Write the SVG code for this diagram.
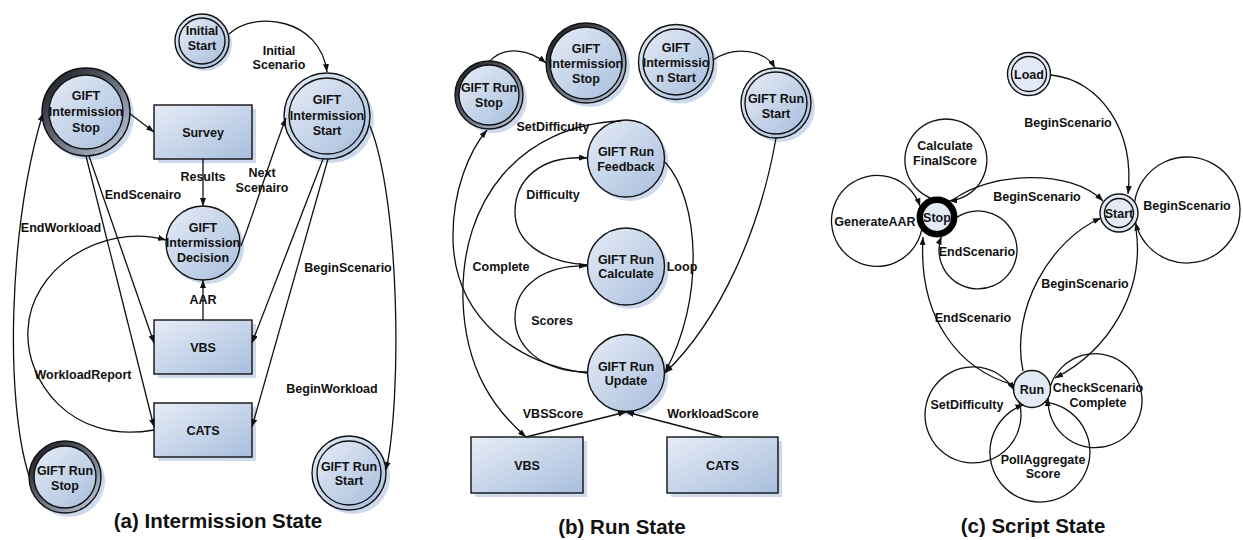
<svg xmlns="http://www.w3.org/2000/svg" width="1243" height="540" viewBox="0 0 1243 540">
<style>
.t{font-family:"Liberation Sans",Arial,sans-serif;font-weight:bold;font-size:12.5px;text-anchor:middle;fill:#111}
.title{font-family:"Liberation Sans",Arial,sans-serif;font-weight:bold;font-size:20.5px;text-anchor:middle;fill:#111}
.n{fill:url(#gNode);stroke:#111;stroke-width:1.4}
.ring{fill:url(#gRing);stroke:#111;stroke-width:1.4}
.sh{fill:#cdd9ec}
.c{fill:#e3eaf5;stroke:#111;stroke-width:1.4}
.e{fill:none;stroke:#111;stroke-width:1.3;marker-end:url(#arr)}
.l{fill:none;stroke:#111;stroke-width:1.3}
</style>
<defs>
<linearGradient id="gNode" x1="0" y1="0" x2="1" y2="1">
<stop offset="0" stop-color="#e6ecf6"/>
<stop offset="1" stop-color="#a8bedd"/>
</linearGradient>
<linearGradient id="gRing" x1="0" y1="0" x2="1" y2="1">
<stop offset="0" stop-color="#0d0d0d"/>
<stop offset="0.45" stop-color="#5d6472"/>
<stop offset="1" stop-color="#cdd8ea"/>
</linearGradient>
<marker id="arr" markerUnits="userSpaceOnUse" markerWidth="8" markerHeight="6" viewBox="0 0 8 6" refX="8" refY="3" orient="auto">
<path d="M0,0 L8,3 L0,6 z" fill="#111"/>
</marker>
</defs>
<rect width="1243" height="540" fill="#fff"/>

<!-- Panel (a) nodes -->
<g id="a-initial-start">
<circle class="sh" cx="205" cy="44" r="27"/>
<circle class="n" cx="202" cy="41" r="27"/>
<circle class="n" cx="202" cy="41" r="23"/>
<text class="t" x="202" y="35">Initial</text>
<text class="t" x="202" y="50">Start</text>
</g>
<g id="a-intermission-stop">
<circle class="sh" cx="90" cy="116" r="44"/>
<circle class="ring" cx="86" cy="112" r="44"/>
<circle class="n" cx="86" cy="112" r="37"/>
<text class="t" x="86" y="100">GIFT</text>
<text class="t" x="86" y="116">Intermission</text>
<text class="t" x="86" y="132">Stop</text>
</g>
<g id="a-survey">
<rect class="sh" x="158" y="109" width="98" height="54"/>
<rect class="n" x="154" y="105" width="98" height="54"/>
<text class="t" x="203" y="136.5">Survey</text>
</g>
<g id="a-intermission-start">
<circle class="sh" cx="331" cy="120" r="43"/>
<circle class="n" cx="327" cy="116" r="43"/>
<circle class="n" cx="327" cy="116" r="38"/>
<text class="t" x="327" y="104">GIFT</text>
<text class="t" x="327" y="120">Intermission</text>
<text class="t" x="327" y="135">Start</text>
</g>
<g id="a-decision">
<circle class="sh" cx="207" cy="247" r="37"/>
<circle class="n" cx="203" cy="243" r="37"/>
<text class="t" x="203" y="231.5">GIFT</text>
<text class="t" x="203" y="246.5">Intermission</text>
<text class="t" x="203" y="261.5">Decision</text>
</g>
<g id="a-vbs">
<rect class="sh" x="158" y="324" width="98" height="54"/>
<rect class="n" x="154" y="320" width="98" height="54"/>
<text class="t" x="203" y="351.5">VBS</text>
</g>
<g id="a-cats">
<rect class="sh" x="158" y="407" width="98" height="54"/>
<rect class="n" x="154" y="403" width="98" height="54"/>
<text class="t" x="203" y="434.5">CATS</text>
</g>
<g id="a-run-stop">
<circle class="sh" cx="69" cy="481" r="36"/>
<circle class="ring" cx="65" cy="477" r="36"/>
<circle class="n" cx="65" cy="477" r="31"/>
<text class="t" x="65" y="474.5">GIFT Run</text>
<text class="t" x="65" y="489.5">Stop</text>
</g>
<g id="a-run-start">
<circle class="sh" cx="353" cy="477" r="37"/>
<circle class="n" cx="349" cy="473" r="37"/>
<circle class="n" cx="349" cy="473" r="32"/>
<text class="t" x="349" y="470.5">GIFT Run</text>
<text class="t" x="349" y="484.5">Start</text>
</g>

<!-- Panel (b) nodes -->
<g id="b-run-stop">
<circle class="sh" cx="493" cy="99" r="34"/>
<circle class="ring" cx="489" cy="95" r="34"/>
<circle class="n" cx="489" cy="95" r="30"/>
<text class="t" x="489" y="91.5">GIFT Run</text>
<text class="t" x="489" y="106.5">Stop</text>
</g>
<g id="b-intermission-stop">
<circle class="sh" cx="590" cy="67" r="40"/>
<circle class="ring" cx="586" cy="63" r="40"/>
<circle class="n" cx="586" cy="63" r="36"/>
<text class="t" x="586" y="52.5">GIFT</text>
<text class="t" x="586" y="67.5">Intermission</text>
<text class="t" x="586" y="82.5">Stop</text>
</g>
<g id="b-intermission-start">
<circle class="sh" cx="680" cy="66" r="37.5"/>
<circle class="n" cx="676" cy="62" r="37.5"/>
<circle class="n" cx="676" cy="62" r="33"/>
<text class="t" x="676" y="51.5">GIFT</text>
<text class="t" x="676" y="66.5">Intermissio</text>
<text class="t" x="676" y="81.5">n Start</text>
</g>
<g id="b-run-start">
<circle class="sh" cx="780" cy="107" r="35"/>
<circle class="n" cx="776" cy="103" r="35"/>
<circle class="n" cx="776" cy="103" r="31"/>
<text class="t" x="776" y="102.5">GIFT Run</text>
<text class="t" x="776" y="117.5">Start</text>
</g>
<g id="b-feedback">
<circle class="sh" cx="630" cy="162.5" r="38.5"/>
<circle class="n" cx="626" cy="158.5" r="38.5"/>
<text class="t" x="626" y="155.5">GIFT Run</text>
<text class="t" x="626" y="170.5">Feedback</text>
</g>
<g id="b-calculate">
<circle class="sh" cx="630" cy="270.5" r="38.5"/>
<circle class="n" cx="626" cy="266.5" r="38.5"/>
<text class="t" x="626" y="263.5">GIFT Run</text>
<text class="t" x="626" y="277.5">Calculate</text>
</g>
<g id="b-update">
<circle class="sh" cx="630" cy="377" r="38.5"/>
<circle class="n" cx="626" cy="373" r="38.5"/>
<text class="t" x="626" y="370.5">GIFT Run</text>
<text class="t" x="626" y="384.5">Update</text>
</g>
<g id="b-vbs">
<rect class="sh" x="475" y="441" width="112" height="56"/>
<rect class="n" x="471" y="437" width="112" height="56"/>
<text class="t" x="527" y="469.5">VBS</text>
</g>
<g id="b-cats">
<rect class="sh" x="671" y="441" width="111" height="56"/>
<rect class="n" x="667" y="437" width="111" height="56"/>
<text class="t" x="722.5" y="469.5">CATS</text>
</g>

<!-- Panel (c) nodes -->
<g id="c-load">
<circle class="c" cx="1029" cy="74" r="21.5"/>
<circle class="c" cx="1029" cy="74" r="17.5"/>
<text class="t" x="1029" y="78.5">Load</text>
</g>
<g id="c-stop">
<circle cx="937" cy="217" r="17.2" fill="#e3eaf5" stroke="#000" stroke-width="6.5"/>
<text class="t" x="937" y="221.5">Stop</text>
</g>
<g id="c-start">
<circle class="c" cx="1119" cy="213" r="19"/>
<circle class="c" cx="1119" cy="213" r="14.5"/>
<text class="t" x="1119" y="217.5">Start</text>
</g>
<g id="c-run">
<circle class="c" cx="1032" cy="389" r="18.5"/>
<text class="t" x="1032" y="393.5">Run</text>
</g>

<!-- Connectors -->
<g id="connectors">
<!-- (a) -->
<path class="e" d="M229 34 C255 10 320 18 327 72"/>
<path class="e" d="M129 113 L154 132"/>
<path class="e" d="M203 159 L203 206"/>
<path class="e" d="M241 246 C255 210 268 165 286 118"/>
<path class="e" d="M89 156 L154 343"/>
<path class="e" d="M86 156 L154 427"/>
<path class="e" d="M323 159 L252 343"/>
<path class="e" d="M328 159 L252 427"/>
<path class="e" d="M370 126 C400 200 402 400 386 470"/>
<path class="e" d="M29 476 C5 400 8 230 43 113"/>
<path class="e" d="M154 430 C70 445 25 380 28 330 C30 270 100 222 166 240"/>
<path class="e" d="M203 320 L203 280"/>
<text class="t" x="279" y="54.5">Initial</text>
<text class="t" x="279" y="68.5">Scenario</text>
<text class="t" x="203" y="180.5">Results</text>
<text class="t" x="262" y="176.5">Next</text>
<text class="t" x="262" y="191.5">Scenairo</text>
<text class="t" x="143" y="198.5">EndScenairo</text>
<text class="t" x="61" y="231.5">EndWorkload</text>
<text class="t" x="348" y="271.5">BeginScenario</text>
<text class="t" x="203" y="303.5">AAR</text>
<text class="t" x="83" y="378.5">WorkloadReport</text>
<text class="t" x="332" y="392.5">BeginWorkload</text>
<!-- (b) -->
<path class="e" d="M490 61 C505 45 530 50 546 63"/>
<path class="e" d="M713 60 C735 45 765 50 775 68"/>
<path class="e" d="M621 121 C520 125 460 200 463 300 C465 370 495 410 526 437"/>
<path class="e" d="M587 373 C520 365 455 320 453 240 C452 190 470 150 487 130"/>
<path class="e" d="M588 265 C540 262 515 240 515 212 C515 180 540 155 587 158"/>
<path class="e" d="M587 372 C540 372 515 345 515 318 C515 285 545 265 587 266"/>
<path class="e" d="M665 162 C700 200 705 300 665 372"/>
<path class="e" d="M776 138 C760 230 720 320 665 373"/>
<path class="e" d="M526 437 L626 412"/>
<path class="e" d="M722 437 L626 412"/>
<text class="t" x="553" y="130.5">SetDifficulty</text>
<text class="t" x="553" y="198.5">Difficulty</text>
<text class="t" x="501" y="270.5">Complete</text>
<text class="t" x="682" y="270.5">Loop</text>
<text class="t" x="552" y="324.5">Scores</text>
<text class="t" x="553" y="417.5">VBSScore</text>
<text class="t" x="713" y="417.5">WorkloadScore</text>
<!-- (c) -->
<path class="e" d="M1051 75 C1100 80 1135 130 1128 194"/>
<path class="e" d="M953 200 C990 172 1070 168 1103 201"/>
<path class="e" d="M1023 371 C1010 310 1050 240 1101 218"/>
<path class="e" d="M1136 229 C1145 290 1110 350 1055 378"/>
<path class="e" d="M1014 385 C960 370 918 320 923 237"/>
<path class="e" d="M930.7 198.1 A41 41 0 1 1 948.9 200.9"/>
<path class="e" d="M921.6 229.9 A45.5 45.5 0 1 1 920.1 206.3"/>
<path class="e" d="M957 217.1 A39 39 0 1 1 941.4 236.5"/>
<path class="e" d="M1134.6 202.1 A53 53 0 1 1 1135.5 222.5"/>
<path class="e" d="M1019.1 401.5 A48 48 0 1 1 1014.1 390.1"/>
<path class="e" d="M1044.1 402.2 A50 50 0 1 1 1023.5 404.8"/>
<path class="e" d="M1050.3 386.3 A47 47 0 1 1 1048.1 398.3"/>
<text class="t" x="945" y="149.5">Calculate</text>
<text class="t" x="945" y="164.5">FinalScore</text>
<text class="t" x="875" y="225.5">GenerateAAR</text>
<text class="t" x="977" y="255.5">EndScenario</text>
<text class="t" x="1187" y="209.5">BeginScenario</text>
<text class="t" x="967" y="408.5">SetDifficulty</text>
<text class="t" x="1043" y="463.5">PollAggregate</text>
<text class="t" x="1043" y="477.5">Score</text>
<text class="t" x="1098" y="391.5">CheckScenario</text>
<text class="t" x="1098" y="406.5">Complete</text>
<text class="t" x="1068" y="126.5">BeginScenario</text>
<text class="t" x="1037" y="200.5">BeginScenario</text>
<text class="t" x="973" y="321.5">EndScenario</text>
<text class="t" x="1085" y="287.5">BeginScenario</text>
</g>

<g id="titles">
<text class="title" x="218" y="528">(a) Intermission State</text>
<text class="title" x="622" y="534">(b) Run State</text>
<text class="title" x="1033" y="533">(c) Script State</text>
</g>
</svg>
